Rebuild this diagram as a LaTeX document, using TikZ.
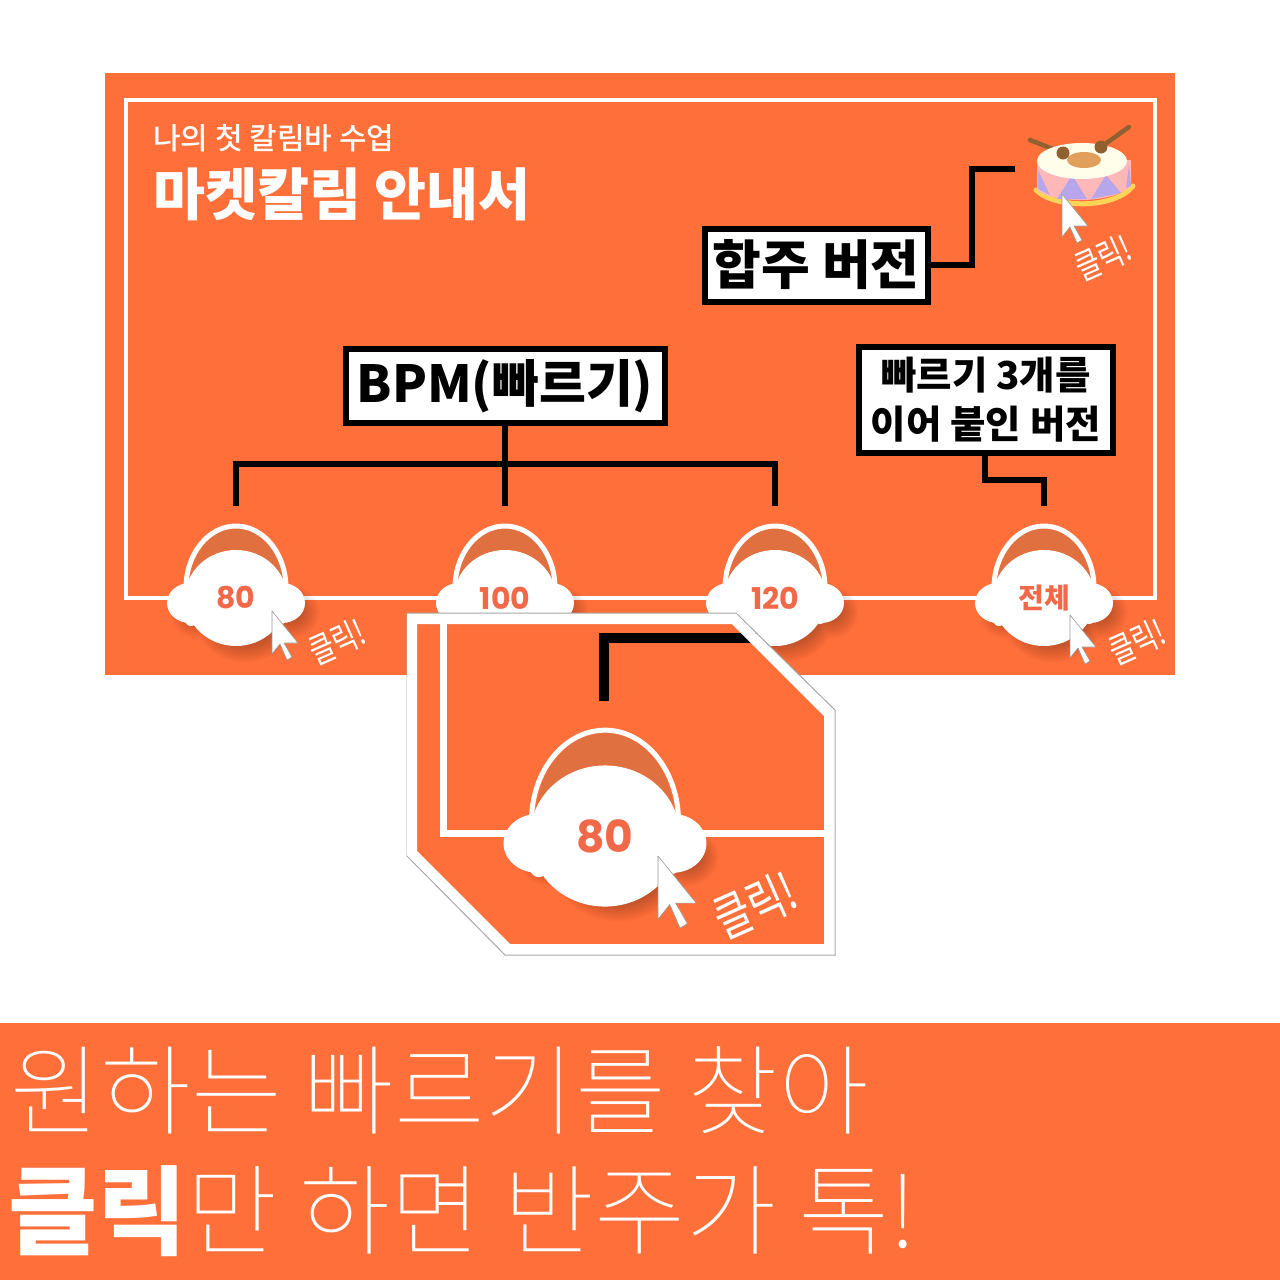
\documentclass[tikz,border=0pt]{standalone}
\usepackage{fontspec}
\setmainfont{Noto Sans CJK KR}
\newfontfamily\thinfont{Noto Sans CJK KR Thin}
\newfontfamily\mediumfont{Noto Sans CJK KR Medium}
\newfontfamily\blackfont{Noto Sans CJK KR Black}
\newfontfamily\numfont{Poppins}
\usetikzlibrary{positioning}
\definecolor{kalorange}{HTML}{FF6F3A}
\definecolor{kaldark}{HTML}{E0703F}
\definecolor{kalnum}{HTML}{F2694A}
\newcommand{\fsz}[1]{\fontsize{#1}{#1}\selectfont}
\newcommand{\hand}[1]{\scalebox{0.95}[1.25]{#1}}
\tikzset{
  wire/.style={black,line width=6pt},
  blackbox/.style={draw=black,fill=white,line width=6pt,inner sep=0pt,align=center},
  klick/.style={white,rotate=24,inner sep=0pt,font=\fsz{#1}},
  numlabel/.style={text=kalnum,inner sep=0pt,font=\bfseries\fsz{#1}},
  pics/headset/.style={code={
    \foreach \r in {0,3,...,39}{
      \path[draw=black,fill=black,opacity=0.02,line width=\r pt]
        (9,12) ellipse [x radius=35,y radius=33]
        (-37,14) ellipse [x radius=9,y radius=7]
        (55,14) ellipse [x radius=9,y radius=7];
    }
    \fill[kaldark] (-47,-12) arc [start angle=180,end angle=360,x radius=47,y radius=58] -- cycle;
    \draw[white,line width=5pt] (-50,-10) arc [start angle=180,end angle=360,x radius=50,y radius=62];
    \fill[white] (0,0) ellipse [x radius=51,y radius=48];
    \fill[white] (-46,5) ellipse [x radius=23,y radius=20];
    \fill[white] (46,5) ellipse [x radius=23,y radius=20];
    \fill[white] (-45,22) circle (6);
    \fill[white] (45,20) circle (6);
  }},
  pics/cursor/.style={code={
    \draw[draw=gray!80,fill=white,line width=0.6pt,line join=round]
      (0,0) -- (26,32) -- (12,32) -- (20,46) -- (15,49) -- (8,33) -- (0,43) -- cycle;
  }}
}
\begin{document}
\begin{tikzpicture}[x=1pt,y=-1pt]
  \useasboundingbox (0,0) rectangle (1280,1280);
  \fill[kalorange] (105,73) rectangle (1175,675);
  \draw[white,line width=4pt] (126,100) rectangle (1155,598);

  \node (sub) [anchor=west,white,inner sep=0pt,font=\mediumfont\fsz{30}] at (153,138) {나의 첫 칼림바 수업};
  \node (title) [anchor=west,white,inner sep=0pt,font=\bfseries\fsz{56.5}] at (153,194) {마켓칼림 안내서};

  \node (ens) [blackbox,minimum width=223pt,minimum height=73pt,font=\bfseries\fsz{53}] at (816,265) {합주 버전};
  \node (bpm) [blackbox,minimum width=319pt,minimum height=74pt,font=\bfseries\fsz{51}] at (505,386) {BPM(빠르기)};
  \node (join) [blackbox,minimum width=254pt,minimum height=106pt,font=\bfseries\fontsize{38.5}{49}\selectfont] at (986,400) {빠르기 3개를\\이어 붙인 버전};

  \pic at (236,598) {headset};
  \pic at (505,598) {headset};
  \pic at (775,598) {headset};
  \pic at (1044,598) {headset};
  \node (n80) [numlabel=30] at (236,598) {\numfont 80};
  \node (n100) [numlabel=30,right of=n80,node distance=269pt] {\numfont 100};
  \node (n120) [numlabel=30,right of=n100,node distance=270pt] {\numfont 120};
  \node (nall) [numlabel=28,right of=n120,node distance=269pt] {전체};

  \coordinate (drumend) at (1015,169);
  \coordinate (t80) at (236,506);
  \coordinate (t100) at (505,506);
  \coordinate (t120) at (775,506);
  \coordinate (tall) at (1044,506);
  \draw[wire] (ens.east) -- (972,265) -- (972,169) -- (drumend);
  \draw[wire] (bpm.south) -- (t100);
  \draw[wire] (t80) -- (236,464) -- (775,464) -- (t120);
  \draw[wire] (join.south -| 985,0) -- (985,480) -- (1044,480) -- (tall);

  % drum
  \draw[line width=4.5pt,color=brown!75!black,line cap=round] (1030,140) -- (1063,153);
  \draw[line width=4.5pt,color=brown!75!black,line cap=round] (1129,127) -- (1101,147);
  \draw[line width=5pt,color=yellow!55!orange!65!white,line cap=round] (1036,190) .. controls (1055,209) and (1115,209) .. (1133,186);
  \fill[pink!80!red!70!white] (1037,160) -- (1037,190) .. controls (1055,204) and (1112,204) .. (1131,186) -- (1131,160) -- cycle;
  \fill[violet!40!blue!35!white] (1038,170) -- (1050,195) -- (1038,189) -- cycle
    (1072,175) -- (1087,199) -- (1057,199) -- cycle
    (1106,175) -- (1121,193) -- (1091,199) -- cycle
    (1129,165) -- (1131,186) -- (1126,188) -- cycle;
  \fill[yellow!8!white] (1082,161) ellipse [x radius=45,y radius=18];
  \fill[brown!60!orange!75!white] (1084,160) ellipse [x radius=17,y radius=8];
  \fill[brown!75!black] (1063,153) circle (6.5);
  \fill[brown!75!black] (1101,147) circle (6.5);
  \pic at (1062,194) {cursor};
  \node (k1) [klick=28] at (1103,258) {\hand{클릭!}};

  \pic at (272,611) {cursor};
  \node (k2) [klick=28] at (337,642) {\hand{클릭!}};
  \pic at (1070,615) {cursor};
  \node (k3) [klick=28] at (1137,642) {\hand{클릭!}};

  % magnified part
  \draw[gray!70,fill=white,line width=1pt] (407,613) -- (736,613) -- (835,710) -- (835,955) -- (505,955) -- (407,856) -- cycle;
  \fill[kalorange] (412,619) -- (734,619) -- (829,714) -- (829,949) -- (508,949) -- (412,853) -- cycle;
  \draw[white,line width=7pt] (443,624) -- (443,833) -- (824,833);
  \coordinate (magend) at (756,638);
  \coordinate (magtop) at (604,701);
  \draw[black,line width=10pt] (magend) -- (604,638) -- (magtop);
  \draw[white,line width=10pt] (412,619) -- (734,619) -- (829,714) -- (829,949) -- (508,949) -- (412,853) -- cycle;
  \pic[scale=1.47] at (605,836) {headset};
  \node (n80b) [numlabel=44] at (605,836) {\numfont 80};
  \pic[scale=1.47] at (658,856) {cursor};
  \node (k4) [klick=41] at (755,905) {\hand{클릭!}};

  \fill[kalorange] (0,1023) rectangle (1280,1280);
  \node (line1) [anchor=west,white,inner sep=0pt,font=\thinfont\fsz{98.5}] at (10,1090) {원하는 빠르기를 찾아};
  \node (line2) [anchor=west,white,inner sep=0pt,font=\fsz{99}] at (8,1211) {{\blackfont\fsz{97}클릭}{\thinfont 만 하면 반주가 톡!}};
\end{tikzpicture}
\end{document}
